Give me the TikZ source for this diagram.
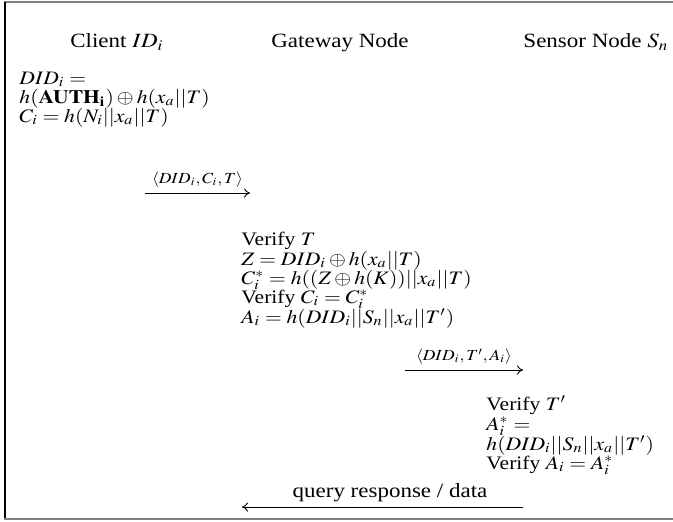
\documentclass[tikz,border=0pt]{standalone}
\usepackage{graphicx}
\usepackage{mathptmx}
\usepackage{fontspec}
\setmainfont{Liberation Serif}
\usetikzlibrary{arrows.meta}

% lines are set a little lower than their width
\newcommand\lowtext[1]{\scalebox{1}[0.88]{#1}}

\tikzset{
  head/.style={anchor=base, inner sep=0pt, font=\fontsize{10}{12}\selectfont},
  stepline/.style={anchor=base west, inner sep=0pt, font=\fontsize{9.4}{11}\selectfont},
  msg/.style={line width=0.4pt, -{To[length=2.6pt,width=4pt]}},
  msgtag/.style={midway, above=2.2pt, inner sep=0pt, font=\fontsize{7.6}{9}\selectfont},
  msglabel/.style={anchor=base, inner sep=0pt, font=\fontsize{10}{12}\selectfont},
  frameline/.style={line width=#1},
}

\begin{document}
\begin{tikzpicture}[x=0.435pt,y=-0.435pt]
\useasboundingbox (0,0) rectangle (673,521);

% frame
\draw[frameline=0.7pt, draw=gray] (4,2) -- (673,2);
\draw[frameline=0.9pt, draw=black] (5,2) -- (5,519);
\draw[frameline=1.2pt, draw=gray] (4,519) -- (673,519);

% column headings
\node[head] (hc) at (117,47) {\lowtext{Client $ID_i$}};
\node[head] (hg) at (340,47) {\lowtext{Gateway Node}};
\node[head] (hs) at (596,47) {\lowtext{Sensor Node $S_n$}};

% client computations
\node[stepline] (c1) at (19,84)  {\lowtext{$DID_i =$}};
\node[stepline] (c2) at (19,103) {\lowtext{$h(\mathbf{AUTH_i})\oplus h(x_a||T)$}};
\node[stepline] (c3) at (19,122) {\lowtext{$C_i = h(N_i||x_a||T)$}};

% message 1
\coordinate (m1a) at (145,193);
\coordinate (m1b) at (250,193);
\draw[msg] (m1a) -- (m1b) node[msgtag] (l1) {\lowtext{$\langle DID_i,C_i,T\rangle$}};

% gateway computations
\node[stepline] (g1) at (241,245) {\lowtext{Verify $T$}};
\node[stepline] (g2) at (241,265) {\lowtext{$Z = DID_i\oplus h(x_a||T)$}};
\node[stepline] (g3) at (241,284) {\lowtext{$C_i^* = h((Z\oplus h(K))||x_a||T)$}};
\node[stepline] (g4) at (241,303) {\lowtext{Verify $C_i = C_i^*$}};
\node[stepline] (g5) at (241,323) {\lowtext{$A_i = h(DID_i||S_n||x_a||T')$}};

% message 2
\coordinate (m2a) at (405,370);
\coordinate (m2b) at (523,370);
\draw[msg] (m2a) -- (m2b) node[msgtag] (l2) {\lowtext{$\langle DID_i,T',A_i\rangle$}};

% sensor computations
\node[stepline] (s1) at (486,410) {\lowtext{Verify $T'$}};
\node[stepline] (s2) at (486,430) {\lowtext{$A_i^* =$}};
\node[stepline] (s3) at (486,450) {\lowtext{$h(DID_i||S_n||x_a||T')$}};
\node[stepline] (s4) at (486,469) {\lowtext{Verify $A_i = A_i^*$}};

% message 3
\coordinate (m3a) at (523,507);
\coordinate (m3b) at (242,507);
\node[msglabel] (l3) at (390,497) {\lowtext{query response / data}};
\draw[msg] (m3a) -- (m3b);

\end{tikzpicture}
\end{document}
